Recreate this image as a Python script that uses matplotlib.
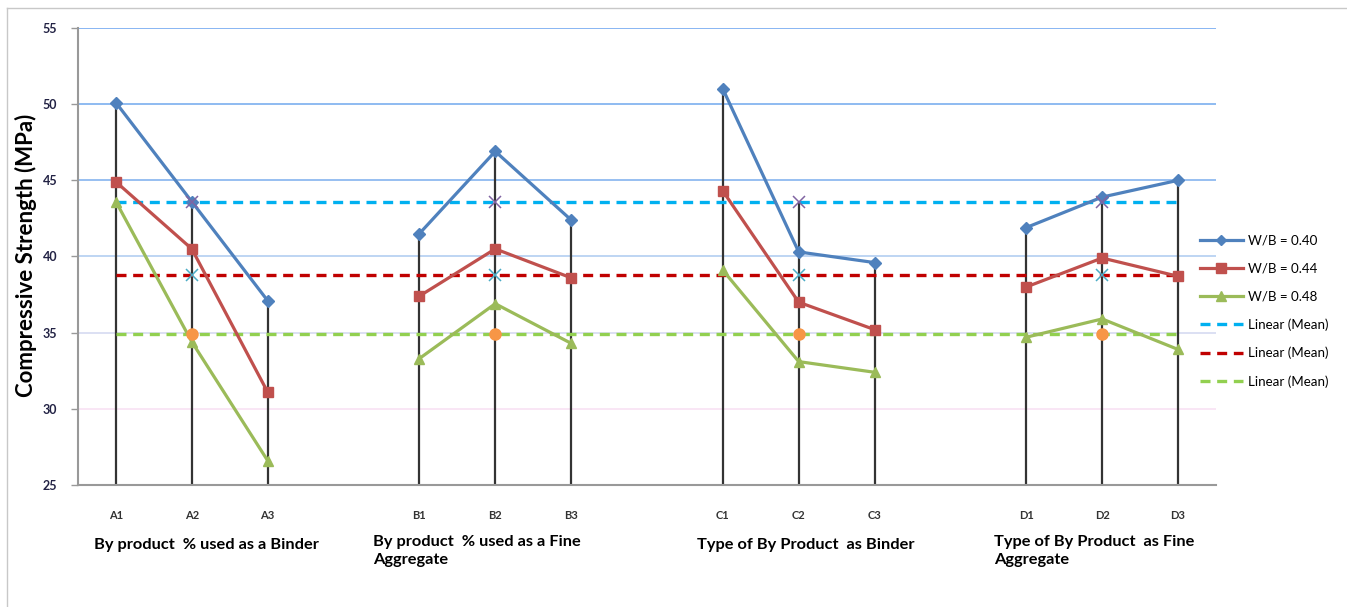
# Compressive strength by mix group, recreated from an Excel-style chart
import matplotlib.pyplot as plt
from matplotlib.lines import Line2D

plt.rcParams['font.family'] = ['Lato', 'DejaVu Sans']

# category labels (blank slots separate the four groups)
categories = ['A1', 'A2', 'A3', '', 'B1', 'B2', 'B3', '',
              'C1', 'C2', 'C3', '', 'D1', 'D2', 'D3']

# values per category, None where the slot is blank
wb040 = [50.1, 43.6, 37.1, None, 41.5, 46.9, 42.4, None,
         51.0, 40.3, 39.6, None, 41.9, 43.9, 45.0]
wb044 = [44.9, 40.5, 31.1, None, 37.4, 40.5, 38.6, None,
         44.3, 37.0, 35.2, None, 38.0, 39.9, 38.7]
wb048 = [43.6, 34.4, 26.6, None, 33.3, 36.9, 34.3, None,
         39.1, 33.1, 32.4, None, 34.7, 35.9, 33.9]

# mean series, plotted only at the middle of each group
mean_pos = ['A2', 'B2', 'C2', 'D2']
mean040 = 43.6
mean044 = 38.8
mean048 = 34.9

group_labels = ['By product  % used as a Binder',
                'By product  % used as a Fine\nAggregate',
                'Type of By Product  as Binder',
                'Type of By Product  as Fine\nAggregate']


def main():
    fig = plt.figure(figsize=(13.47, 6.07), dpi=100)
    ax = fig.add_axes([0.0579, 0.201, 0.8448, 0.7529])

    x = list(range(len(categories)))
    mx = [categories.index(c) for c in mean_pos]

    # horizontal gridlines, fading from blue to pink like the original
    grid_cols = {55: '#7fb0f2', 50: '#86b5f0', 45: '#8fbaf0', 40: '#b9d2f2', 35: '#d9ddf2', 30: '#f9e4f4'}
    for v, c in grid_cols.items():
        ax.axhline(v, color=c, lw=1.3, zorder=0)

    # drop lines from highest point at each category
    for i, c in enumerate(categories):
        if not c:
            continue
        vals = [wb040[i], wb044[i], wb048[i]]
        if i in mx:
            vals += [mean040, mean044, mean048]
        ax.vlines(i, 25, max(vals), color='#333333', lw=1.6, zorder=1)

    # trend lines of the means
    ax.plot([0, 14], [mean040, mean040], color='#00b0f0', lw=2.4, ls=(0, (3, 2)), zorder=2)
    ax.plot([0, 14], [mean044, mean044], color='#c00000', lw=2.4, ls=(0, (3, 2)), zorder=2)
    ax.plot([0, 14], [mean048, mean048], color='#92d050', lw=2.4, ls=(0, (3, 2)), zorder=2)

    # mean markers
    ax.plot(mx, [mean040] * 4, ls='none', marker='x', ms=8, mew=1.1, color='#8064a2', zorder=4)
    ax.plot(mx, [mean044] * 4, ls='none', marker='x', ms=8, mew=1.1, color='#4bacc6', zorder=4)
    ax.plot(mx, [mean048] * 4, ls='none', marker='o', ms=8, color='#f79646', zorder=4)

    # the three w/b series, each group drawn as its own segment
    series = [(wb040, '#4f81bd', 'D', 6), (wb044, '#c0504d', 's', 7.5), (wb048, '#9bbb59', '^', 7.5)]
    for data, col, mk, ms in series:
        for g in range(4):
            xs = x[g * 4:g * 4 + 3]
            ys = data[g * 4:g * 4 + 3]
            ax.plot(xs, ys, color=col, lw=2.3, marker=mk, ms=ms, zorder=3)

    ax.set_xlim(-0.5, 14.5)
    ax.set_ylim(25, 55)
    ax.set_yticks(range(25, 56, 5))
    ax.set_xticks(x)
    ax.set_xticklabels(categories, fontsize=8, fontweight='bold', color='#333333')
    ax.tick_params(axis='x', length=0, pad=18)
    ax.tick_params(axis='y', length=5, width=1, color='#999999', labelsize=9, pad=10, labelcolor='#222244')
    for lbl in ax.get_yticklabels():
        lbl.set_fontweight('bold')

    for s in ['top', 'right']:
        ax.spines[s].set_visible(False)
    ax.spines['left'].set_color('#999999')
    ax.spines['bottom'].set_color('#999999')
    ax.spines['left'].set_linewidth(1.5)
    ax.spines['bottom'].set_linewidth(1.5)

    fig.text(0.019, 0.58, 'Compressive Strength (MPa)', rotation=90, ha='center', va='center',
             fontsize=16, fontweight='bold')

    # group captions under the tick labels
    gx = [94, 373, 697, 994]
    for px, txt in zip(gx, group_labels):
        y0 = 545 if '\n' not in txt else 551
        fig.text(px / 1347, 1 - y0 / 607, txt, ha='left', va='center', fontsize=11.8,
                 fontweight='bold', linespacing=1.35, multialignment='left')

    # legend for the series and trend lines
    handles = [
        Line2D([], [], color='#4f81bd', lw=2.3, marker='D', ms=5),
        Line2D([], [], color='#c0504d', lw=2.3, marker='s', ms=7),
        Line2D([], [], color='#9bbb59', lw=2.3, marker='^', ms=7),
        Line2D([], [], color='#00b0f0', lw=2.4, ls=(0, (3, 2))),
        Line2D([], [], color='#c00000', lw=2.4, ls=(0, (3, 2))),
        Line2D([], [], color='#92d050', lw=2.4, ls=(0, (3, 2))),
    ]
    labels = ['W/B = 0.40', 'W/B = 0.44', 'W/B = 0.48',
              'Linear (Mean)', 'Linear (Mean)', 'Linear (Mean)']
    fig.legend(handles, labels, loc='center left', bbox_to_anchor=(1188 / 1347, 1 - 311 / 607),
               frameon=False, fontsize=9.6, handlelength=3.2, labelspacing=1.2, handletextpad=0.4)

    # outer chart border
    fig.add_artist(Line2D([7 / 1347, 7 / 1347], [0, 1 - 8 / 607], color='#c8c8c8', lw=1))
    fig.add_artist(Line2D([7 / 1347, 1], [1 - 8 / 607, 1 - 8 / 607], color='#c8c8c8', lw=1))

    fig.savefig('out.png', dpi=100)


if __name__ == "__main__":
    main()
